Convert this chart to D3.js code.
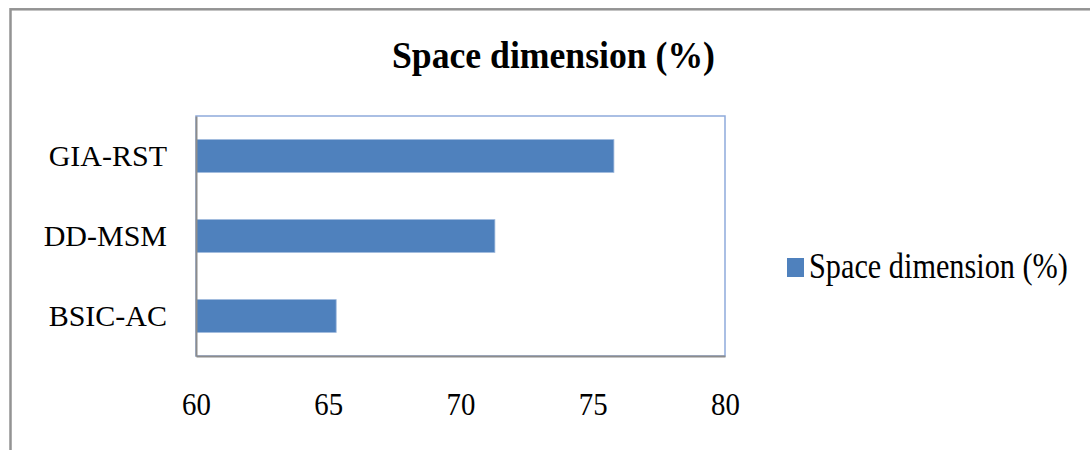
<!DOCTYPE html>
<html>
<head>
<meta charset="utf-8">
<script src="https://cdn.jsdelivr.net/npm/d3@7"></script>
<style>
  html, body { margin: 0; padding: 0; background: #fff; }
  svg { display: block; }
</style>
</head>
<body>
<svg id="chart" width="1090" height="450"></svg>
<script>
// Space dimension by method
const categories = ["GIA-RST", "DD-MSM", "BSIC-AC"];
const values = [75.8, 71.3, 65.3];
const tickValues = [60, 65, 70, 75, 80];
const seriesName = "Space dimension (%)";
const chartTitle = "Space dimension (%)";

const svg = d3.select("#chart");
const W = 1090, H = 450;
const plot = { left: 196, top: 116, right: 725, bottom: 356 };
const barColor = "#4F81BD";
const font = "'Liberation Serif', 'Times New Roman', serif";

// outer chart frame
svg.append("rect")
  .attr("x", 10.5).attr("y", 9.3)
  .attr("width", W + 20).attr("height", H + 20)
  .attr("fill", "#fff")
  .attr("stroke", "#939393").attr("stroke-width", 2.5);

const x = d3.scaleLinear().domain([60, 80]).range([plot.left, plot.right]);
const y = d3.scaleBand().domain(categories).range([plot.top, plot.bottom]).paddingInner(0.59).paddingOuter(0.295);

// plot area border
svg.append("rect")
  .attr("x", plot.left).attr("y", plot.top)
  .attr("width", plot.right - plot.left).attr("height", plot.bottom - plot.top)
  .attr("fill", "#fff")
  .attr("stroke", "#8EAADB").attr("stroke-width", 1.5);

// bars
svg.append("g").selectAll("rect")
  .data(categories)
  .join("rect")
  .attr("x", x(60))
  .attr("y", d => y(d))
  .attr("width", (d, i) => x(values[i]) - x(60))
  .attr("height", y.bandwidth())
  .attr("fill", barColor)
  .attr("stroke", "#9DB8DC").attr("stroke-width", 0.8);

// axes
const xAxis = svg.append("g")
  .attr("transform", `translate(0,${plot.bottom})`)
  .call(d3.axisBottom(x).tickValues(tickValues).tickSize(0).tickPadding(36));
xAxis.select(".domain").attr("stroke", "#8c8c8c").attr("stroke-width", 2);
xAxis.selectAll("text")
  .attr("font-family", font).attr("font-size", 32).attr("fill", "#000")
  .attr("transform", "scale(0.9,1)");

const yAxis = svg.append("g")
  .attr("transform", `translate(${plot.left},0)`)
  .call(d3.axisLeft(y).tickSize(0).tickPadding(29));
yAxis.select(".domain").attr("stroke", "#8c8c8c").attr("stroke-width", 2);
yAxis.selectAll("text")
  .attr("font-family", font).attr("font-size", 30).attr("fill", "#000");

// title
svg.append("g")
  .attr("transform", "translate(553.5,68) scale(0.915,1)")
  .append("text")
  .attr("text-anchor", "middle")
  .attr("font-family", font).attr("font-weight", "bold").attr("font-size", 39)
  .attr("fill", "#000")
  .text(chartTitle);

// legend
const legend = svg.append("g").attr("transform", "translate(787,258)");
legend.append("rect").attr("width", 17).attr("height", 19).attr("fill", barColor);
legend.append("g")
  .attr("transform", "translate(22,20) scale(0.865,1)")
  .append("text")
  .attr("font-family", font).attr("font-size", 35).attr("fill", "#000")
  .text(seriesName);
</script>
</body>
</html>
